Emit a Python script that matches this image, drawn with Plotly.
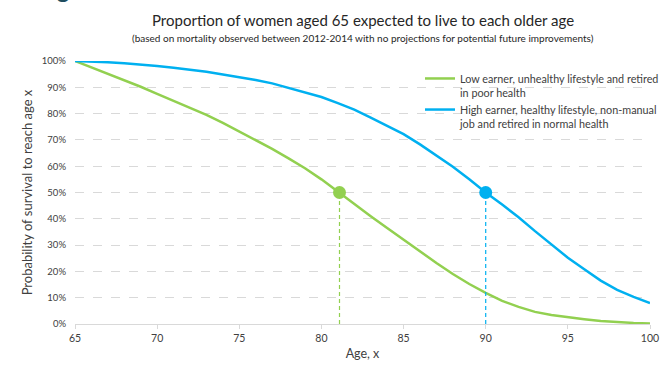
import plotly.graph_objects as go

ages = list(range(65, 101))
low_earner = [100, 97.5, 95.3, 92.7, 90.2, 87.5, 84.9, 82.2, 79.5, 76.5,
              73.3, 70.0, 66.6, 63.0, 59.2, 55.0, 50.3, 45.5, 41.0, 36.5,
              32.0, 27.5, 23.2, 19.0, 15.2, 11.8, 8.8, 6.5, 4.6, 3.4,
              2.5, 1.8, 1.1, 0.7, 0.4, 0.2]
high_earner = [100, 99.8, 99.5, 99.1, 98.7, 98.1, 97.4, 96.7, 95.9, 94.9,
               93.9, 92.8, 91.5, 89.8, 88.0, 86.3, 84.0, 81.5, 78.5, 75.5,
               72.2, 68.3, 64.2, 59.8, 55.0, 50.0, 45.4, 40.6, 35.3, 30.2,
               25.2, 20.8, 16.5, 13.0, 10.3, 8.0]
median_ages = [81.1, 90.0]
median_pct = [50, 50]
names = ["Low earner, unhealthy lifestyle and retired<br>in poor health",
         "High earner, healthy lifestyle, non-manual<br>job and retired in normal health"]
colors = ["#92D050", "#00B0F0"]
y_ticks = list(range(0, 101, 10))
y_ticktext = [f"{v}%" for v in y_ticks]
x_ticks = list(range(65, 101, 5))

FONT = "Lato, 'Open Sans', sans-serif"
fig = go.Figure()
for vals, name, col in zip([low_earner, high_earner], names, colors):
    fig.add_trace(go.Scatter(x=ages, y=vals, mode="lines", name=name,
                             line=dict(color=col, width=2.5)))
for a, p, col in zip(median_ages, median_pct, colors):
    fig.add_trace(go.Scatter(x=[a, a], y=[0, p], mode="lines", showlegend=False,
                             line=dict(color=col, width=1.2, dash="4px,3px")))
    fig.add_trace(go.Scatter(x=[a], y=[p], mode="markers", showlegend=False,
                             marker=dict(color=col, size=13)))

fig.update_layout(
    width=660, height=367,
    margin=dict(l=75, r=10, t=61, b=43, autoexpand=False),
    paper_bgcolor="white", plot_bgcolor="white",
    font=dict(family=FONT, color="#404040", size=10),
    legend=dict(x=0.6, y=0.985, xanchor="left", yanchor="top", valign="top",
                bgcolor="rgba(0,0,0,0)", font=dict(size=10.8, color="#404040"),
                itemwidth=30, tracegroupgap=9),
    xaxis=dict(range=[65, 100], tickvals=x_ticks,
               showgrid=False, zeroline=False, showline=True,
               linecolor="#D9D9D9", linewidth=1, ticks="outside",
               ticklen=4, tickcolor="#D9D9D9",
               title=dict(text="Age, x", font=dict(size=12.5, color="#404040"),
                          standoff=6),
               tickfont=dict(size=10.5, color="#404040")),
    yaxis=dict(range=[0, 100], tickmode="array", tickvals=y_ticks,
               ticktext=y_ticktext,
               showgrid=True, gridcolor="#D9D9D9",
               griddash="dash", gridwidth=1, zeroline=False,
               ticklabelstandoff=8,
               title=dict(text="Probability of survival to reach age x",
                          font=dict(size=13, color="#404040"), standoff=6),
               tickfont=dict(size=9.5, color="#404040")),
)
fig.add_annotation(text="Proportion of women aged 65 expected to live to each older age",
                   xref="paper", yref="paper", x=0.5, y=1.0, yshift=41,
                   xanchor="center", yanchor="middle", showarrow=False,
                   font=dict(size=15, color="#262626", family=FONT))
fig.add_annotation(text="(based on mortality observed between 2012-2014 with no projections for potential future improvements)",
                   xref="paper", yref="paper", x=0.5, y=1.0, yshift=23,
                   xanchor="center", yanchor="middle", showarrow=False,
                   font=dict(size=10, color="#262626", family=FONT))
fig.add_annotation(text="<b>Figure</b>", xref="paper", yref="paper",
                   x=0, xshift=-40, y=1.0, yshift=56, xanchor="left",
                   yanchor="bottom", showarrow=False,
                   font=dict(size=24, color="#1F4E5F", family=FONT))
fig.write_html("out.html", config={"displayModeBar": False},
               post_script="document.body.style.margin='0';")
